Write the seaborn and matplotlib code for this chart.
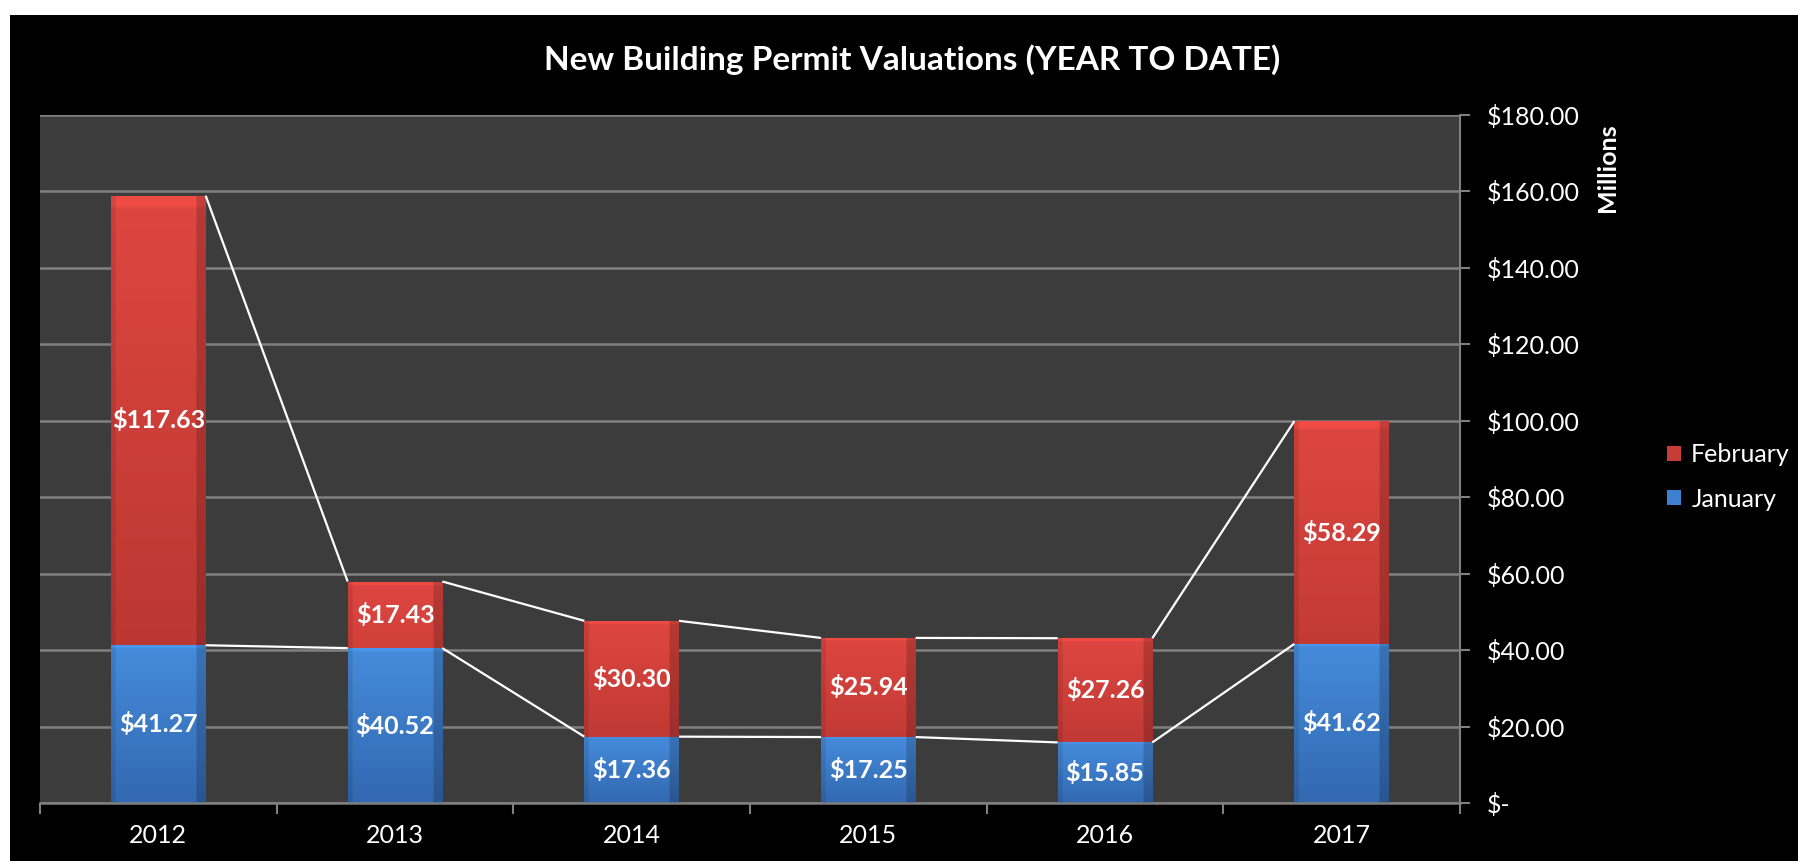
import numpy as np
import pandas as pd
import matplotlib
matplotlib.use("Agg")
import matplotlib.pyplot as plt
import seaborn as sns
from matplotlib.patches import Rectangle, Patch
from matplotlib.ticker import FixedLocator, FuncFormatter

# DATA (millions of dollars)
years = ["2012", "2013", "2014", "2015", "2016", "2017"]
january = [41.27, 40.52, 17.36, 17.25, 15.85, 41.62]
february = [117.63, 17.43, 30.30, 25.94, 27.26, 58.29]
y_ticks = [0, 20, 40, 60, 80, 100, 120, 140, 160, 180]

df = pd.DataFrame({"year": years, "January": january, "February": february})
df["total"] = df["January"] + df["February"]

RED_TOP, RED_BOT = np.array([222, 70, 64]) / 255, np.array([176, 50, 46]) / 255
BLUE_TOP, BLUE_BOT = np.array([70, 140, 220]) / 255, np.array([50, 104, 176]) / 255
FONT = ["Lato", "DejaVu Sans"]


def shade(top, bot, n=200, m=60):
    # vertical gradient with darker bevel edges
    t = np.linspace(0, 1, n)[:, None, None]
    img = top * (1 - t) + bot * t
    img = np.repeat(img, m, axis=1)
    xs = np.linspace(0, 1, m)
    side = np.ones(m)
    side[xs > 0.9] = 0.82
    side[xs < 0.04] = 0.9
    img = img * side[None, :, None]
    img[:4] = np.clip(img[:4] * 1.08, 0, 1)
    return np.clip(img, 0, 1)


sns.set_theme(style="dark")
plt.rcParams["font.family"] = FONT

fig = plt.figure(figsize=(17.99, 8.61), dpi=100, facecolor="white")
fig.patches.append(Rectangle((10 / 1799, 0), 1, (861 - 15) / 861,
                             transform=fig.transFigure, facecolor="black",
                             edgecolor="none", zorder=-10))

ax = fig.add_axes([40 / 1799, (861 - 803) / 861, 1420 / 1799, 688 / 861])
ax.set_facecolor("#3c3c3c")

# stacked bars: totals in red, January drawn over them in blue
sns.barplot(data=df, x="year", y="total", color="#c83c37", width=0.4,
            saturation=1, errorbar=None, ax=ax, zorder=2, edgecolor="none", linewidth=0)
sns.barplot(data=df, x="year", y="January", color="#3d7fd0", width=0.4,
            saturation=1, errorbar=None, ax=ax, zorder=2, edgecolor="none", linewidth=0)

ax.set_xlim(-0.5, len(years) - 0.5)
ax.set_ylim(0, 180)

red_img = shade(RED_TOP, RED_BOT)
blue_img = shade(BLUE_TOP, BLUE_BOT)
for i, p in enumerate(ax.patches):
    x0, y0 = p.get_x(), p.get_y()
    w, h = p.get_width(), p.get_height()
    img = red_img if i < len(years) else blue_img
    im = ax.imshow(img, extent=[x0, x0 + w, y0, y0 + h], aspect="auto",
                   zorder=2.5, interpolation="bilinear")
    im.set_clip_path(p)
ax.set_xlim(-0.5, len(years) - 0.5)
ax.set_ylim(0, 180)

# series lines between bar corners
half = 0.2
for tops in (df["January"].values, df["total"].values):
    for i in range(len(years) - 1):
        ax.plot([i + half, i + 1 - half], [tops[i], tops[i + 1]],
                color="white", lw=1.6, zorder=3, solid_capstyle="butt")

# data labels
for i in range(len(years)):
    ax.text(i, january[i] / 2, f"${january[i]:.2f}", ha="center", va="center",
            color="white", fontsize=18, fontweight="bold", zorder=4)
    ax.text(i, january[i] + february[i] / 2, f"${february[i]:.2f}",
            ha="center", va="center", color="white", fontsize=18,
            fontweight="bold", zorder=4)

# grid and axes
ax.yaxis.set_major_locator(FixedLocator(y_ticks))
ax.yaxis.grid(True, color="#808080", lw=1.8, zorder=0)
ax.xaxis.grid(False)
ax.set_axisbelow(True)
ax.yaxis.tick_right()
ax.yaxis.set_major_formatter(FuncFormatter(lambda v, _: "$-" if v == 0 else f"${v:.2f}"))
ax.tick_params(axis="y", which="major", direction="out", length=7, width=1.5,
               color="#808080", pad=12, labelsize=18, labelcolor="white", right=True, left=False)
for lab in ax.get_yticklabels():
    lab.set_horizontalalignment("left")

ax.set_xticks(range(len(years)))
ax.set_xticklabels(years)
ax.set_xticks(np.arange(-0.5, len(years)), minor=True)
ax.tick_params(axis="x", which="major", length=0, pad=15, labelsize=18, labelcolor="white")
ax.tick_params(axis="x", which="minor", direction="out", length=8, width=1.5,
               color="#808080", bottom=True)
ax.set_xlabel("")
ax.set_ylabel("")

for s in ("left", "top"):
    ax.spines[s].set_visible(False)
ax.spines["right"].set_visible(True)
ax.spines["right"].set_color("#808080")
ax.spines["right"].set_linewidth(1.5)
ax.spines["bottom"].set_visible(True)
ax.spines["bottom"].set_color("#808080")
ax.spines["bottom"].set_linewidth(1.8)

fig.text(1608 / 1799, 1 - 168 / 861, "Millions", rotation=90, ha="center",
         va="center", color="white", fontsize=18, fontweight="bold")

fig.text(912 / 1799, 1 - 60 / 861, "New Building Permit Valuations (YEAR TO DATE)",
         ha="center", va="center", color="white", fontsize=24, fontweight="bold")

handles = [Patch(facecolor="#c83c37", edgecolor="none", label="February"),
           Patch(facecolor="#3d7fd0", edgecolor="none", label="January")]
leg = fig.legend(handles=handles, loc="center left",
                 bbox_to_anchor=(1645 / 1799, 1 - 477 / 861), frameon=False,
                 fontsize=18, handlelength=0.55, handleheight=0.55,
                 handletextpad=0.4, labelspacing=0.85)
for t in leg.get_texts():
    t.set_color("white")

fig.savefig("out.png", dpi=100, facecolor=fig.get_facecolor())
